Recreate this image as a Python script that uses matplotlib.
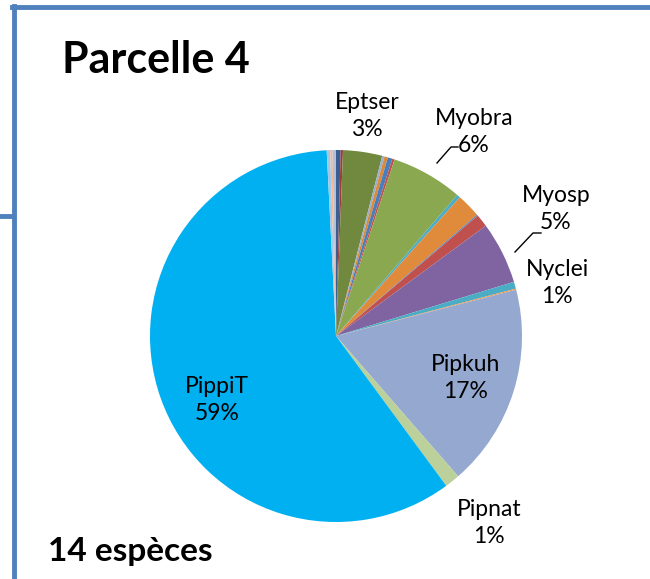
import matplotlib.pyplot as plt
from matplotlib.lines import Line2D

# slices, clockwise from 12 o'clock
species = ["a", "b", "Eptser", "d", "e", "f", "g", "Myobra", "i", "j", "k", "l",
           "Myosp", "Nyclei", "o", "Pipkuh", "Pipnat", "PippiT", "s", "t", "u"]
values = [0.4, 0.2, 3.4, 0.2, 0.3, 0.4, 0.2, 6.2, 0.3, 2.1, 0.1, 1.1,
          5.4, 0.6, 0.1, 17.6, 1.3, 59.3, 0.3, 0.2, 0.3]
colors = ["#3B5E92", "#9B3B3A", "#71893F", "#9AAFCF", "#D98A3A", "#4A7EBB", "#C0504D",
          "#8AA84F", "#4BACC6", "#E08B3B", "#4F81BD", "#C0504D", "#8064A2", "#4BACC6",
          "#F79646", "#95A8D0", "#BBD09A", "#00B0F0", "#A0C8E8", "#F2B894", "#B3C0DA"]

W, H = 650, 579


def px(x, y):
    return x / W, 1 - y / H


fig = plt.figure(figsize=(6.5, 5.79), dpi=100)
fig.patch.set_facecolor("white")

cx, cy, r = 336, 336, 186
ax = fig.add_axes([(cx - r) / W, (H - cy - r) / H, 2 * r / W, 2 * r / H])
ax.pie(values, colors=colors, startangle=90, counterclock=False,
       wedgeprops=dict(linewidth=0))
ax.set_xlim(-1, 1)
ax.set_ylim(-1, 1)
ax.set_aspect("equal")
ax.axis("off")

# frame
blue = "#4F81BD"
fig.add_artist(Line2D([px(12, 7)[0], 1], [px(12, 7)[1]] * 2, color=blue, lw=3.5))
fig.add_artist(Line2D([px(14, 0)[0]] * 2, [px(0, 6)[1], 0], color=blue, lw=3.5))
fig.add_artist(Line2D([0, px(13, 0)[0]], [px(0, 216)[1]] * 2, color=blue, lw=3.5))

fig.text(*px(62, 60), "Parcelle 4", fontsize=31, fontweight="bold",
         family="Lato", ha="left", va="center")
fig.text(*px(48, 551), "14 espèces", fontsize=24, fontweight="bold",
         family="Lato", ha="left", va="center")

lab = dict(fontsize=16.5, family="Lato", ha="center", va="center", linespacing=1.35)
fig.text(*px(367, 116), "Eptser\n3%", **lab)
fig.text(*px(474, 132), "Myobra\n6%", **lab)
fig.text(*px(556, 209), "Myosp\n5%", **lab)
fig.text(*px(557, 283), "Nyclei\n1%", **lab)
fig.text(*px(466, 378), "Pipkuh\n17%", **lab)
fig.text(*px(489, 523), "Pipnat\n1%", **lab)
fig.text(*px(217, 400), "PippiT\n59%", **lab)

# leader lines
for pts in ([(437, 163), (451, 147), (458, 147)],
            [(515, 252), (533, 233), (541, 233)]):
    xs = [px(*p)[0] for p in pts]
    ys = [px(*p)[1] for p in pts]
    fig.add_artist(Line2D(xs, ys, color="black", lw=1))

fig.savefig("out.png", dpi=100)
